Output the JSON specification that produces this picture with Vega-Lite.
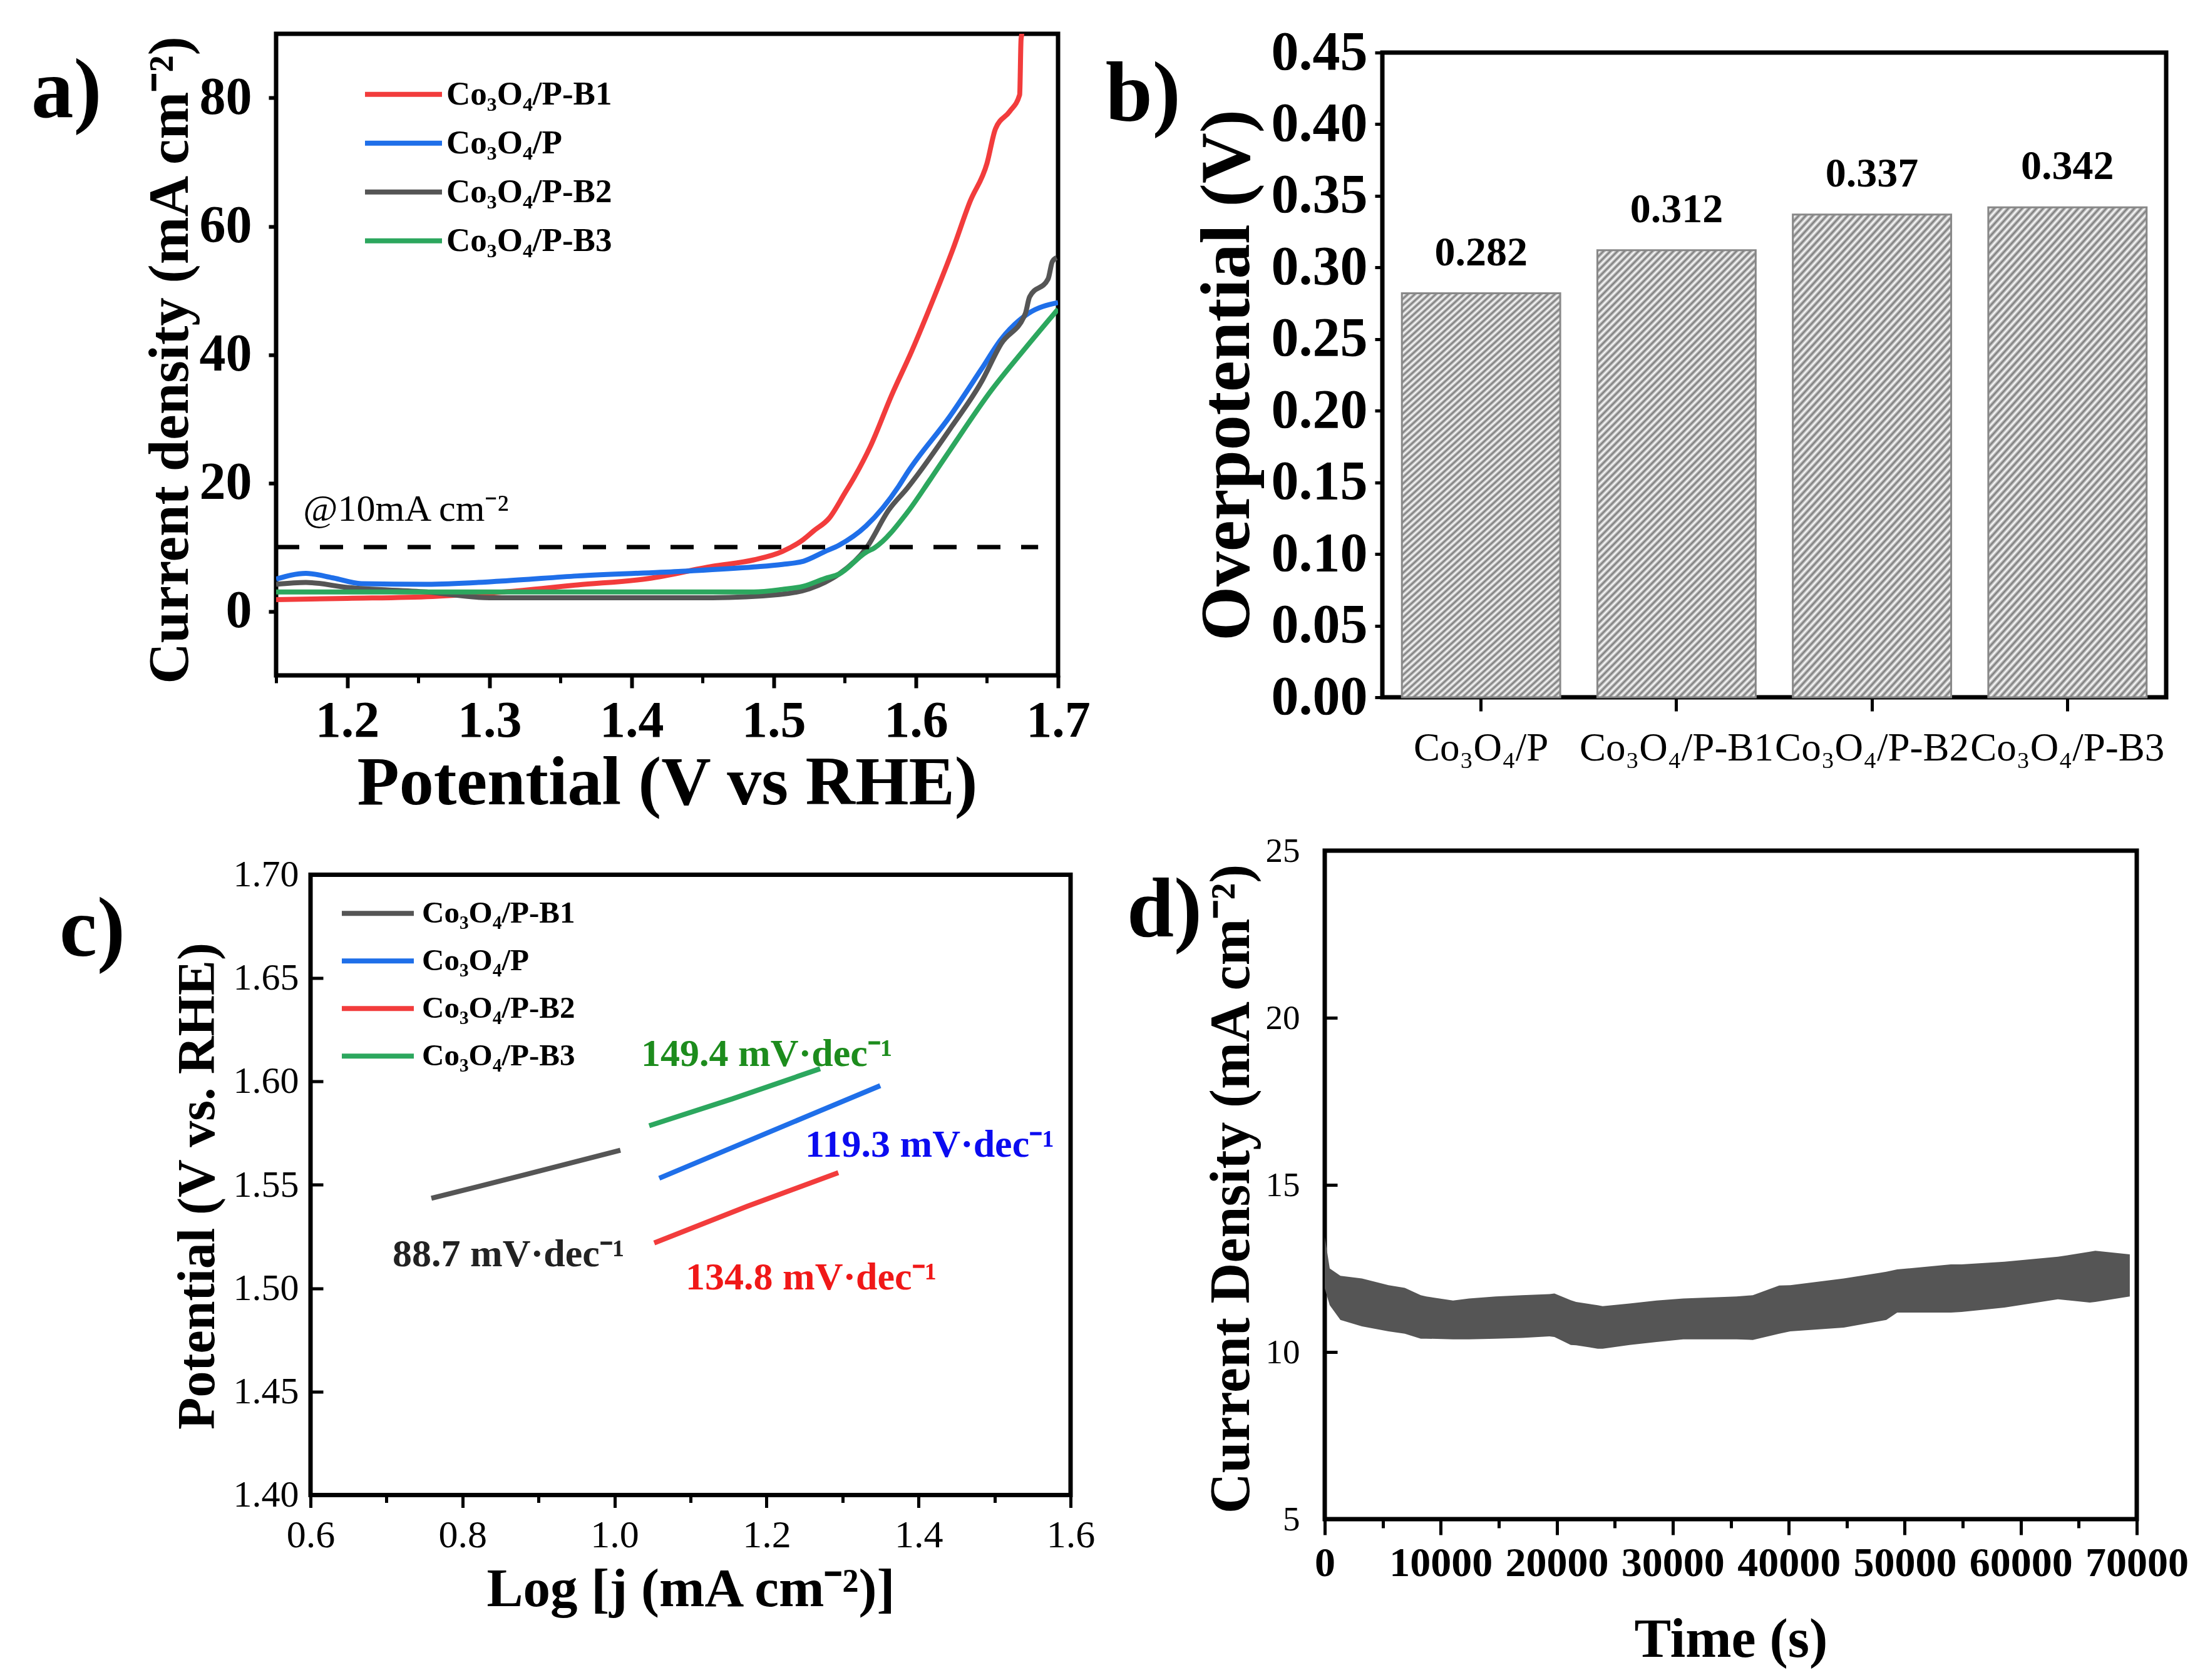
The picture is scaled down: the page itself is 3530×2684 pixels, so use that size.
{
"$schema": "https://vega.github.io/schema/vega-lite/v6.json",
"autosize": {"type": "none"},
"padding": {"left": 441, "top": 54, "right": 3089, "bottom": 2630},
"background": "white",
"config": {
  "font": "Liberation Serif",
  "view": {"stroke": "black", "strokeWidth": 7},
  "axis": {"domain": false, "grid": false, "labelColor": "black", "titleColor": "black", "tickColor": "black", "labelFont": "Liberation Serif", "titleFont": "Liberation Serif", "titleFontWeight": "bold", "labelLimit": 0},
  "legend": {"labelFont": "Liberation Serif", "labelColor": "black"},
  "text": {"font": "Liberation Serif"}
},
"concat": [
 {
  "hconcat": [
   {
    "width": 1249, "height": 1025,
    "layer": [
     {
      "data": {"values": [
       {"sample":"Co₃O₄/P-B1","E":1.15,"j":1.8},{"sample":"Co₃O₄/P-B1","E":1.2,"j":2.0},{"sample":"Co₃O₄/P-B1","E":1.26,"j":2.3},{"sample":"Co₃O₄/P-B1","E":1.31,"j":3.0},{"sample":"Co₃O₄/P-B1","E":1.362,"j":4.1},{"sample":"Co₃O₄/P-B1","E":1.412,"j":5.1},{"sample":"Co₃O₄/P-B1","E":1.457,"j":7.0},{"sample":"Co₃O₄/P-B1","E":1.486,"j":8.0},{"sample":"Co₃O₄/P-B1","E":1.506,"j":9.3},{"sample":"Co₃O₄/P-B1","E":1.521,"j":11.2},{"sample":"Co₃O₄/P-B1","E":1.528,"j":12.5},{"sample":"Co₃O₄/P-B1","E":1.539,"j":14.5},{"sample":"Co₃O₄/P-B1","E":1.55,"j":18.4},{"sample":"Co₃O₄/P-B1","E":1.557,"j":21.0},{"sample":"Co₃O₄/P-B1","E":1.568,"j":25.7},{"sample":"Co₃O₄/P-B1","E":1.583,"j":33.7},{"sample":"Co₃O₄/P-B1","E":1.597,"j":40.5},{"sample":"Co₃O₄/P-B1","E":1.612,"j":48.5},{"sample":"Co₃O₄/P-B1","E":1.626,"j":56.4},{"sample":"Co₃O₄/P-B1","E":1.638,"j":63.8},{"sample":"Co₃O₄/P-B1","E":1.65,"j":69.8},{"sample":"Co₃O₄/P-B1","E":1.656,"j":75.2},{"sample":"Co₃O₄/P-B1","E":1.666,"j":77.9},{"sample":"Co₃O₄/P-B1","E":1.673,"j":80.5},{"sample":"Co₃O₄/P-B1","E":1.674,"j":89.2},{"sample":"Co₃O₄/P-B1","E":1.677,"j":92},
       {"sample":"Co₃O₄/P","E":1.15,"j":5.0},{"sample":"Co₃O₄/P","E":1.171,"j":5.9},{"sample":"Co₃O₄/P","E":1.19,"j":5.2},{"sample":"Co₃O₄/P","E":1.21,"j":4.3},{"sample":"Co₃O₄/P","E":1.256,"j":4.2},{"sample":"Co₃O₄/P","E":1.309,"j":4.7},{"sample":"Co₃O₄/P","E":1.362,"j":5.5},{"sample":"Co₃O₄/P","E":1.433,"j":6.2},{"sample":"Co₃O₄/P","E":1.486,"j":6.9},{"sample":"Co₃O₄/P","E":1.506,"j":7.3},{"sample":"Co₃O₄/P","E":1.521,"j":7.8},{"sample":"Co₃O₄/P","E":1.536,"j":9.3},{"sample":"Co₃O₄/P","E":1.546,"j":10.3},{"sample":"Co₃O₄/P","E":1.565,"j":13.3},{"sample":"Co₃O₄/P","E":1.588,"j":19.5},{"sample":"Co₃O₄/P","E":1.594,"j":21.6},{"sample":"Co₃O₄/P","E":1.624,"j":30.4},{"sample":"Co₃O₄/P","E":1.646,"j":37.7},{"sample":"Co₃O₄/P","E":1.66,"j":42.4},{"sample":"Co₃O₄/P","E":1.679,"j":46.4},{"sample":"Co₃O₄/P","E":1.7,"j":48.1},
       {"sample":"Co₃O₄/P-B2","E":1.15,"j":4.2},{"sample":"Co₃O₄/P-B2","E":1.171,"j":4.5},{"sample":"Co₃O₄/P-B2","E":1.2,"j":3.7},{"sample":"Co₃O₄/P-B2","E":1.256,"j":3.0},{"sample":"Co₃O₄/P-B2","E":1.3,"j":2.1},{"sample":"Co₃O₄/P-B2","E":1.4,"j":2.1},{"sample":"Co₃O₄/P-B2","E":1.457,"j":2.1},{"sample":"Co₃O₄/P-B2","E":1.504,"j":2.6},{"sample":"Co₃O₄/P-B2","E":1.525,"j":3.5},{"sample":"Co₃O₄/P-B2","E":1.536,"j":4.5},{"sample":"Co₃O₄/P-B2","E":1.546,"j":5.8},{"sample":"Co₃O₄/P-B2","E":1.565,"j":9.8},{"sample":"Co₃O₄/P-B2","E":1.581,"j":15.8},{"sample":"Co₃O₄/P-B2","E":1.594,"j":19.2},{"sample":"Co₃O₄/P-B2","E":1.624,"j":28.4},{"sample":"Co₃O₄/P-B2","E":1.646,"j":35.7},{"sample":"Co₃O₄/P-B2","E":1.66,"j":41.7},{"sample":"Co₃O₄/P-B2","E":1.677,"j":46.4},{"sample":"Co₃O₄/P-B2","E":1.68,"j":49.0},{"sample":"Co₃O₄/P-B2","E":1.693,"j":51.8},{"sample":"Co₃O₄/P-B2","E":1.696,"j":54.5},{"sample":"Co₃O₄/P-B2","E":1.699,"j":55.1},
       {"sample":"Co₃O₄/P-B3","E":1.15,"j":3.0},{"sample":"Co₃O₄/P-B3","E":1.3,"j":3.0},{"sample":"Co₃O₄/P-B3","E":1.486,"j":3.0},{"sample":"Co₃O₄/P-B3","E":1.506,"j":3.4},{"sample":"Co₃O₄/P-B3","E":1.521,"j":3.9},{"sample":"Co₃O₄/P-B3","E":1.536,"j":5.1},{"sample":"Co₃O₄/P-B3","E":1.546,"j":5.8},{"sample":"Co₃O₄/P-B3","E":1.565,"j":9.2},{"sample":"Co₃O₄/P-B3","E":1.571,"j":9.9},{"sample":"Co₃O₄/P-B3","E":1.594,"j":15.4},{"sample":"Co₃O₄/P-B3","E":1.61,"j":20.5},{"sample":"Co₃O₄/P-B3","E":1.624,"j":25.1},{"sample":"Co₃O₄/P-B3","E":1.653,"j":34.4},{"sample":"Co₃O₄/P-B3","E":1.677,"j":41.0},{"sample":"Co₃O₄/P-B3","E":1.7,"j":47.1}
      ]},
      "mark": {"type": "line", "strokeWidth": 8, "clip": true, "interpolate": "monotone"},
      "encoding": {
       "x": {"field": "E", "type": "quantitative", "scale": {"domain": [1.15, 1.7], "nice": false, "zero": false},
             "axis": {"orient": "bottom", "values": [1.2,1.3,1.4,1.5,1.6,1.7], "format": ".1f", "labelFontSize": 82, "labelFontWeight": "bold", "tickSize": 20, "tickWidth": 6, "labelPadding": 12, "labelFlush": false, "labelOverlap": false, "title": "Potential (V vs RHE)", "titleFontSize": 110, "titleY": 205, "titleBaseline": "alphabetic"}},
       "y": {"field": "j", "type": "quantitative", "scale": {"domain": [-10, 90], "nice": false, "zero": false},
             "axis": {"values": [0,20,40,60,80], "labelFontSize": 84, "labelFontWeight": "bold", "tickSize": 12, "tickWidth": 6, "labelPadding": 27, "title": "Current density (mA cm⁻²)", "titleFontSize": 91, "titleX": -142, "titleY": 521, "titleBaseline": "alphabetic"}},
       "color": {"field": "sample", "type": "nominal",
                 "scale": {"domain": ["Co₃O₄/P-B1","Co₃O₄/P","Co₃O₄/P-B2","Co₃O₄/P-B3"], "range": ["#f23c3c","#1f6fe9","#555555","#2ca75e"]},
                 "legend": {"orient": "none", "legendX": 138, "legendY": 58, "title": null, "symbolType": "stroke", "symbolSize": 15129, "symbolStrokeWidth": 8, "clipHeight": 77.5, "rowPadding": 0, "padding": 0, "labelFontSize": 53, "labelFontWeight": "bold", "labelOffset": 3, "labelLimit": 0}}
      }
     },
     {
      "data": {"values": [{"E": 1.15, "j": 10}, {"E": 1.686, "j": 10}]},
      "mark": {"type": "line", "strokeDash": [37, 33], "strokeWidth": 7, "color": "black"},
      "encoding": {"x": {"field": "E", "type": "quantitative", "axis": {"orient": "bottom", "values": [1.15,1.25,1.35,1.45,1.55,1.65], "labels": false, "tickSize": 12, "tickWidth": 5, "title": null}}, "y": {"field": "j", "type": "quantitative"}}
     },
     {
      "data": {"values": [{"E": 1.169, "j": 14.1, "label": "@10mA cm⁻²"}]},
      "mark": {"type": "text", "align": "left", "baseline": "alphabetic", "fontSize": 60, "color": "black"},
      "encoding": {"x": {"field": "E", "type": "quantitative", "axis": null}, "y": {"field": "j", "type": "quantitative"}, "text": {"field": "label"}}
     },
     {
      "data": {"values": [{"E": 0.9778, "j": 77.0, "label": "a)"}]},
      "mark": {"type": "text", "align": "left", "baseline": "alphabetic", "fontSize": 135, "fontWeight": "bold", "color": "black", "clip": false},
      "encoding": {"x": {"field": "E", "type": "quantitative", "axis": null}, "y": {"field": "j", "type": "quantitative"}, "text": {"field": "label"}}
     }
    ],
    "resolve": {"axis": {"x": "independent"}}
   },
   {
    "vconcat": [
     {
      "width": 10, "height": 30,
      "data": {"values": []},
      "mark": {"type": "point", "opacity": 0},
      "view": {"stroke": null}
     },
     {
      "width": 1252, "height": 1030,
      "data": {"values": [{"sample": "Co₃O₄/P", "eta": 0.282}, {"sample": "Co₃O₄/P-B1", "eta": 0.312}, {"sample": "Co₃O₄/P-B2", "eta": 0.337}, {"sample": "Co₃O₄/P-B3", "eta": 0.342}]},
      "encoding": {
       "x": {"field": "sample", "type": "nominal", "sort": null, "scale": {"paddingInner": 0.19, "paddingOuter": 0.1},
             "axis": {"title": null, "labelAngle": 0, "labelFontSize": 63, "labelFontWeight": "normal", "labelOverlap": false, "tickSize": 22, "tickWidth": 5, "labelPadding": 28}},
       "y": {"field": "eta", "type": "quantitative", "scale": {"domain": [0, 0.45], "nice": false},
             "axis": {"values": [0,0.05,0.1,0.15,0.2,0.25,0.3,0.35,0.4,0.45], "format": ".2f", "labelFontSize": 88, "labelFontWeight": "bold", "tickSize": 12, "tickWidth": 5, "labelPadding": 12, "title": "Overpotential (V)", "titleFontSize": 112, "titleX": -214, "titleY": 515, "titleBaseline": "alphabetic"}}
      },
      "layer": [
       {"mark": {"type": "bar", "stroke": "#888888", "strokeWidth": 3,
         "fill": {"gradient": "linear", "x1": 0, "y1": 0, "x2": 1, "y2": 2.8, "stops": [
{"offset":0,"color":"#777"},{"offset":0.0025,"color":"#fff"},{"offset":0.005,"color":"#777"},{"offset":0.0075,"color":"#fff"},
{"offset":0.01,"color":"#777"},{"offset":0.0125,"color":"#fff"},{"offset":0.015,"color":"#777"},{"offset":0.0175,"color":"#fff"},
{"offset":0.02,"color":"#777"},{"offset":0.0225,"color":"#fff"},{"offset":0.025,"color":"#777"},{"offset":0.0275,"color":"#fff"},
{"offset":0.03,"color":"#777"},{"offset":0.0325,"color":"#fff"},{"offset":0.035,"color":"#777"},{"offset":0.0375,"color":"#fff"},
{"offset":0.04,"color":"#777"},{"offset":0.0425,"color":"#fff"},{"offset":0.045,"color":"#777"},{"offset":0.0475,"color":"#fff"},
{"offset":0.05,"color":"#777"},{"offset":0.0525,"color":"#fff"},{"offset":0.055,"color":"#777"},{"offset":0.0575,"color":"#fff"},
{"offset":0.06,"color":"#777"},{"offset":0.0625,"color":"#fff"},{"offset":0.065,"color":"#777"},{"offset":0.0675,"color":"#fff"},
{"offset":0.07,"color":"#777"},{"offset":0.0725,"color":"#fff"},{"offset":0.075,"color":"#777"},{"offset":0.0775,"color":"#fff"},
{"offset":0.08,"color":"#777"},{"offset":0.0825,"color":"#fff"},{"offset":0.085,"color":"#777"},{"offset":0.0875,"color":"#fff"},
{"offset":0.09,"color":"#777"},{"offset":0.0925,"color":"#fff"},{"offset":0.095,"color":"#777"},{"offset":0.0975,"color":"#fff"},
{"offset":0.1,"color":"#777"},{"offset":0.1025,"color":"#fff"},{"offset":0.105,"color":"#777"},{"offset":0.1075,"color":"#fff"},
{"offset":0.11,"color":"#777"},{"offset":0.1125,"color":"#fff"},{"offset":0.115,"color":"#777"},{"offset":0.1175,"color":"#fff"},
{"offset":0.12,"color":"#777"},{"offset":0.1225,"color":"#fff"},{"offset":0.125,"color":"#777"},{"offset":0.1275,"color":"#fff"},
{"offset":0.13,"color":"#777"},{"offset":0.1325,"color":"#fff"},{"offset":0.135,"color":"#777"},{"offset":0.1375,"color":"#fff"},
{"offset":0.14,"color":"#777"},{"offset":0.1425,"color":"#fff"},{"offset":0.145,"color":"#777"},{"offset":0.1475,"color":"#fff"},
{"offset":0.15,"color":"#777"},{"offset":0.1525,"color":"#fff"},{"offset":0.155,"color":"#777"},{"offset":0.1575,"color":"#fff"},
{"offset":0.16,"color":"#777"},{"offset":0.1625,"color":"#fff"},{"offset":0.165,"color":"#777"},{"offset":0.1675,"color":"#fff"},
{"offset":0.17,"color":"#777"},{"offset":0.1725,"color":"#fff"},{"offset":0.175,"color":"#777"},{"offset":0.1775,"color":"#fff"},
{"offset":0.18,"color":"#777"},{"offset":0.1825,"color":"#fff"},{"offset":0.185,"color":"#777"},{"offset":0.1875,"color":"#fff"},
{"offset":0.19,"color":"#777"},{"offset":0.1925,"color":"#fff"},{"offset":0.195,"color":"#777"},{"offset":0.1975,"color":"#fff"},
{"offset":0.2,"color":"#777"},{"offset":0.2025,"color":"#fff"},{"offset":0.205,"color":"#777"},{"offset":0.2075,"color":"#fff"},
{"offset":0.21,"color":"#777"},{"offset":0.2125,"color":"#fff"},{"offset":0.215,"color":"#777"},{"offset":0.2175,"color":"#fff"},
{"offset":0.22,"color":"#777"},{"offset":0.2225,"color":"#fff"},{"offset":0.225,"color":"#777"},{"offset":0.2275,"color":"#fff"},
{"offset":0.23,"color":"#777"},{"offset":0.2325,"color":"#fff"},{"offset":0.235,"color":"#777"},{"offset":0.2375,"color":"#fff"},
{"offset":0.24,"color":"#777"},{"offset":0.2425,"color":"#fff"},{"offset":0.245,"color":"#777"},{"offset":0.2475,"color":"#fff"},
{"offset":0.25,"color":"#777"},{"offset":0.2525,"color":"#fff"},{"offset":0.255,"color":"#777"},{"offset":0.2575,"color":"#fff"},
{"offset":0.26,"color":"#777"},{"offset":0.2625,"color":"#fff"},{"offset":0.265,"color":"#777"},{"offset":0.2675,"color":"#fff"},
{"offset":0.27,"color":"#777"},{"offset":0.2725,"color":"#fff"},{"offset":0.275,"color":"#777"},{"offset":0.2775,"color":"#fff"},
{"offset":0.28,"color":"#777"},{"offset":0.2825,"color":"#fff"},{"offset":0.285,"color":"#777"},{"offset":0.2875,"color":"#fff"},
{"offset":0.29,"color":"#777"},{"offset":0.2925,"color":"#fff"},{"offset":0.295,"color":"#777"},{"offset":0.2975,"color":"#fff"},
{"offset":0.3,"color":"#777"},{"offset":0.3025,"color":"#fff"},{"offset":0.305,"color":"#777"},{"offset":0.3075,"color":"#fff"},
{"offset":0.31,"color":"#777"},{"offset":0.3125,"color":"#fff"},{"offset":0.315,"color":"#777"},{"offset":0.3175,"color":"#fff"},
{"offset":0.32,"color":"#777"},{"offset":0.3225,"color":"#fff"},{"offset":0.325,"color":"#777"},{"offset":0.3275,"color":"#fff"},
{"offset":0.33,"color":"#777"},{"offset":0.3325,"color":"#fff"},{"offset":0.335,"color":"#777"},{"offset":0.3375,"color":"#fff"},
{"offset":0.34,"color":"#777"},{"offset":0.3425,"color":"#fff"},{"offset":0.345,"color":"#777"},{"offset":0.3475,"color":"#fff"},
{"offset":0.35,"color":"#777"},{"offset":0.3525,"color":"#fff"},{"offset":0.355,"color":"#777"},{"offset":0.3575,"color":"#fff"},
{"offset":0.36,"color":"#777"},{"offset":0.3625,"color":"#fff"},{"offset":0.365,"color":"#777"},{"offset":0.3675,"color":"#fff"},
{"offset":0.37,"color":"#777"},{"offset":0.3725,"color":"#fff"},{"offset":0.375,"color":"#777"},{"offset":0.3775,"color":"#fff"},
{"offset":0.38,"color":"#777"},{"offset":0.3825,"color":"#fff"},{"offset":0.385,"color":"#777"},{"offset":0.3875,"color":"#fff"},
{"offset":0.39,"color":"#777"},{"offset":0.3925,"color":"#fff"},{"offset":0.395,"color":"#777"},{"offset":0.3975,"color":"#fff"},
{"offset":0.4,"color":"#777"},{"offset":0.4025,"color":"#fff"},{"offset":0.405,"color":"#777"},{"offset":0.4075,"color":"#fff"},
{"offset":0.41,"color":"#777"},{"offset":0.4125,"color":"#fff"},{"offset":0.415,"color":"#777"},{"offset":0.4175,"color":"#fff"},
{"offset":0.42,"color":"#777"},{"offset":0.4225,"color":"#fff"},{"offset":0.425,"color":"#777"},{"offset":0.4275,"color":"#fff"},
{"offset":0.43,"color":"#777"},{"offset":0.4325,"color":"#fff"},{"offset":0.435,"color":"#777"},{"offset":0.4375,"color":"#fff"},
{"offset":0.44,"color":"#777"}
         ]}}},
       {"mark": {"type": "text", "dy": -45, "baseline": "alphabetic", "fontSize": 66, "fontWeight": "bold", "color": "black"},
        "encoding": {"text": {"field": "eta", "type": "quantitative", "format": ".3f"}}},
       {"data": {"values": [{"sample": "Co₃O₄/P", "eta": 0.4028, "label": "b)"}]},
        "mark": {"type": "text", "align": "left", "baseline": "alphabetic", "dx": -600, "fontSize": 135, "fontWeight": "bold", "color": "black", "clip": false},
        "encoding": {"text": {"field": "label"}}}
      ]
     }
    ],
    "spacing": 0,
    "bounds": "flush"
   }
  ],
  "spacing": 518,
  "bounds": "flush"
 },
 {
  "hconcat": [
   {
    "width": 55, "height": 10,
    "data": {"values": []},
    "mark": {"type": "point", "opacity": 0},
    "view": {"stroke": null}
   },
   {
    "hconcat": [
     {
      "width": 1214, "height": 991,
      "layer": [
       {
        "data": {"values": [
         {"sample":"Co₃O₄/P-B1","logj":0.759,"E":1.5435},{"sample":"Co₃O₄/P-B1","logj":0.8817,"E":1.5549},{"sample":"Co₃O₄/P-B1","logj":1.0077,"E":1.5668},
         {"sample":"Co₃O₄/P","logj":1.0588,"E":1.5532},{"sample":"Co₃O₄/P","logj":1.2026,"E":1.5754},{"sample":"Co₃O₄/P","logj":1.3496,"E":1.598},
         {"sample":"Co₃O₄/P-B2","logj":1.0522,"E":1.5219},{"sample":"Co₃O₄/P-B2","logj":1.175,"E":1.5397},{"sample":"Co₃O₄/P-B2","logj":1.2944,"E":1.5559},
         {"sample":"Co₃O₄/P-B3","logj":1.0456,"E":1.5786},{"sample":"Co₃O₄/P-B3","logj":1.1548,"E":1.5916},{"sample":"Co₃O₄/P-B3","logj":1.2705,"E":1.6062}
        ]},
        "mark": {"type": "line", "strokeWidth": 8},
        "encoding": {
         "x": {"field": "logj", "type": "quantitative", "scale": {"domain": [0.6, 1.6], "nice": false, "zero": false},
               "axis": {"orient": "bottom", "values": [0.6,0.8,1.0,1.2,1.4,1.6], "format": ".1f", "labelFontSize": 62, "labelFontWeight": "normal", "tickSize": 20, "tickWidth": 5, "labelPadding": 14, "labelFlush": false, "labelOverlap": false, "title": "Log [j (mA cm⁻²)]", "titleFontSize": 87, "titleY": 177, "titleBaseline": "alphabetic"}},
         "y": {"field": "E", "type": "quantitative", "scale": {"domain": [1.4, 1.7], "nice": false, "zero": false},
               "axis": {"values": [1.4,1.45,1.5,1.55,1.6,1.65,1.7], "format": ".2f", "labelFontSize": 60, "labelFontWeight": "normal", "tickSize": -20, "tickWidth": 5, "labelPadding": 39, "title": "Potential (V vs. RHE)", "titleFontSize": 84, "titleX": -155, "titleY": 497, "titleBaseline": "alphabetic"}},
         "color": {"field": "sample", "type": "nominal",
                   "scale": {"domain": ["Co₃O₄/P-B1","Co₃O₄/P","Co₃O₄/P-B2","Co₃O₄/P-B3"], "range": ["#555555","#1f6fe9","#f23c3c","#2ca75e"]},
                   "legend": {"orient": "none", "legendX": 46, "legendY": 24, "title": null, "symbolType": "stroke", "symbolSize": 13225, "symbolStrokeWidth": 8, "clipHeight": 75.3, "rowPadding": 0, "padding": 0, "labelFontSize": 49, "labelFontWeight": "bold", "labelOffset": 9, "labelLimit": 0}}
        }
       },
       {
        "data": {"values": [
         {"logj":1.035,"E":1.6074,"label":"149.4 mV·dec⁻¹","who":"B3"},
         {"logj":1.2507,"E":1.5635,"label":"119.3 mV·dec⁻¹","who":"P"},
         {"logj":0.708,"E":1.5105,"label":"88.7 mV·dec⁻¹","who":"B1"},
         {"logj":1.0934,"E":1.4993,"label":"134.8 mV·dec⁻¹","who":"B2"}
        ]},
        "mark": {"type": "text", "align": "left", "baseline": "alphabetic", "fontSize": 62, "fontWeight": "bold"},
        "encoding": {
         "x": {"field": "logj", "type": "quantitative", "axis": {"orient": "bottom", "values": [0.7,0.9,1.1,1.3,1.5], "labels": false, "tickSize": 12, "tickWidth": 5, "title": null}},
         "y": {"field": "E", "type": "quantitative"},
         "text": {"field": "label"},
         "color": {"field": "who", "type": "nominal", "scale": {"domain": ["B1","P","B2","B3"], "range": ["#222222","#0b0bf0","#f01818","#1d8c1d"]}, "legend": null}
        }
       },
       {
        "data": {"values": [{"logj": 0.2697, "E": 1.6609, "label": "c)"}]},
        "mark": {"type": "text", "align": "left", "baseline": "alphabetic", "fontSize": 135, "fontWeight": "bold", "color": "black", "clip": false},
        "encoding": {"x": {"field": "logj", "type": "quantitative", "axis": null}, "y": {"field": "E", "type": "quantitative"}, "text": {"field": "label"}}
       }
      ],
      "resolve": {"scale": {"color": "independent"}, "axis": {"x": "independent"}}
     },
     {
      "width": 1297, "height": 1068,
      "layer": [
       {
        "data": {"values": [
         {"t":0,"hi":13.45,"lo":11.9},{"t":430,"hi":12.5,"lo":11.4},{"t":1350,"hi":12.28,"lo":10.96},{"t":3200,"hi":12.2,"lo":10.77},{"t":5500,"hi":12.0,"lo":10.62},{"t":6900,"hi":11.92,"lo":10.55},{"t":8280,"hi":11.7,"lo":10.4},{"t":8750,"hi":11.66,"lo":10.4},{"t":11060,"hi":11.54,"lo":10.38},{"t":12440,"hi":11.6,"lo":10.38},{"t":14740,"hi":11.66,"lo":10.4},{"t":17000,"hi":11.7,"lo":10.42},{"t":19370,"hi":11.73,"lo":10.47},{"t":19800,"hi":11.75,"lo":10.45},{"t":21210,"hi":11.55,"lo":10.21},{"t":21670,"hi":11.5,"lo":10.2},{"t":23530,"hi":11.4,"lo":10.1},{"t":23960,"hi":11.37,"lo":10.1},{"t":26280,"hi":11.45,"lo":10.21},{"t":28600,"hi":11.54,"lo":10.3},{"t":30900,"hi":11.6,"lo":10.38},{"t":35500,"hi":11.66,"lo":10.38},{"t":36900,"hi":11.7,"lo":10.36},{"t":39180,"hi":11.99,"lo":10.55},{"t":40130,"hi":12.0,"lo":10.62},{"t":44740,"hi":12.2,"lo":10.73},{"t":48410,"hi":12.4,"lo":10.96},{"t":49350,"hi":12.47,"lo":11.18},{"t":53980,"hi":12.62,"lo":11.18},{"t":54900,"hi":12.62,"lo":11.2},{"t":58590,"hi":12.7,"lo":11.33},{"t":63200,"hi":12.85,"lo":11.58},{"t":65950,"hi":13.0,"lo":11.48},{"t":66430,"hi":13.03,"lo":11.5},{"t":69400,"hi":12.92,"lo":11.66}
        ]},
        "mark": {"type": "area", "color": "#555555", "opacity": 1},
        "encoding": {
         "x": {"field": "t", "type": "quantitative", "scale": {"domain": [0, 70000], "nice": false, "zero": false},
               "axis": {"orient": "bottom", "values": [0,10000,20000,30000,40000,50000,60000,70000], "format": "d", "labelFontSize": 66, "labelFontWeight": "bold", "tickSize": 25, "tickWidth": 5, "labelPadding": 13, "labelFlush": false, "labelOverlap": false, "title": "Time (s)", "titleFontSize": 88, "titleY": 219, "titleBaseline": "alphabetic"}},
         "y": {"field": "hi", "type": "quantitative", "scale": {"domain": [5, 25], "nice": false, "zero": false},
               "axis": {"values": [5,10,15,20,25], "labelFontSize": 55, "labelFontWeight": "normal", "tickSize": -20, "tickWidth": 5, "labelPadding": 60, "title": "Current Density (mA cm⁻²)", "titleFontSize": 90, "titleX": -122, "titleY": 540, "titleBaseline": "alphabetic"}},
         "y2": {"field": "lo"}
        }
       },
       {
        "data": {"values": [{"t": -17055, "hi": 22.44, "label": "d)"}]},
        "mark": {"type": "text", "align": "left", "baseline": "alphabetic", "fontSize": 135, "fontWeight": "bold", "color": "black", "clip": false},
        "encoding": {"x": {"field": "t", "type": "quantitative", "axis": {"orient": "bottom", "values": [5000,15000,25000,35000,45000,55000,65000], "labels": false, "tickSize": 14, "tickWidth": 5, "title": null}}, "y": {"field": "hi", "type": "quantitative"}, "text": {"field": "label"}}
       }
      ],
      "resolve": {"axis": {"x": "independent"}}
     }
    ],
    "spacing": 406,
    "bounds": "flush",
    "center": true
   }
  ],
  "spacing": 0,
  "bounds": "flush"
 }
],
"columns": 1,
"align": "none",
"spacing": 18
}
